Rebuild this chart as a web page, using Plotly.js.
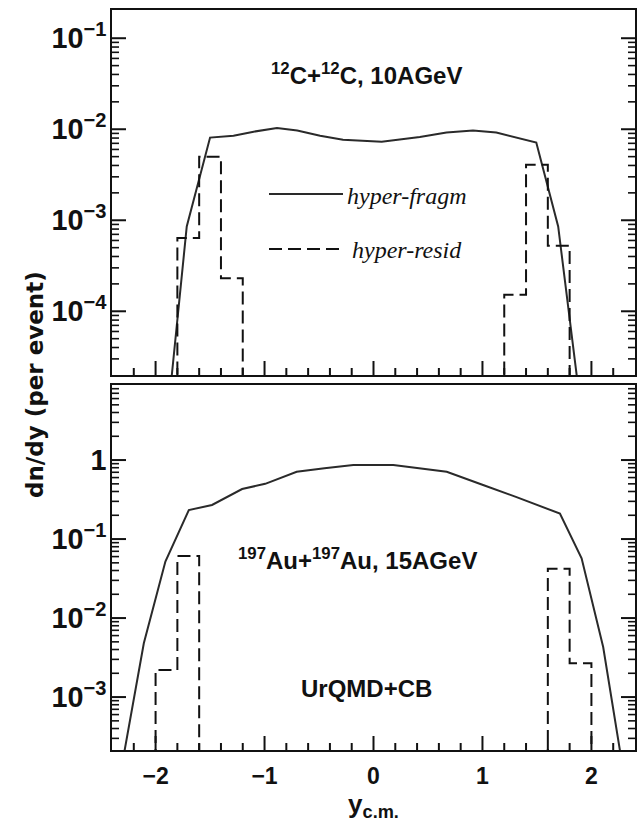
<!DOCTYPE html>
<html><head><meta charset="utf-8">
<script src="https://cdn.plot.ly/plotly-3.0.1.min.js"></script>
<style>html,body{margin:0;padding:0;background:#fff}#chart{width:641px;height:826px}</style>
</head><body><div id="chart"></div>
<script>
// ---- Top panel: 12C+12C, 10 AGeV ----
const fragX_C = [-1.9, -1.714, -1.5, -1.285, -1.1, -0.886, -0.7, -0.49, -0.28, 0.075, 0.425, 0.67, 0.913, 1.127, 1.494, 1.695, 1.9];
const fragY_C = [5.2e-6, 8.55e-4, 8.1e-3, 8.5e-3, 9.4e-3, 1.03e-2, 9.7e-3, 8.5e-3, 7.65e-3, 7.3e-3, 8.2e-3, 9.2e-3, 9.7e-3, 9.2e-3, 7.15e-3, 8.55e-4, 9.1e-6];
const residEdgesL_C = [-1.8, -1.6, -1.4, -1.2];
const residValsL_C = [6.4e-4, 5.0e-3, 2.3e-4];
const residEdgesR_C = [1.2, 1.4, 1.6, 1.8];
const residValsR_C = [1.52e-4, 4.06e-3, 5.25e-4];

// ---- Bottom panel: 197Au+197Au, 15 AGeV ----
const fragX_Au = [-2.3, -2.108, -1.91, -1.695, -1.482, -1.206, -0.994, -0.705, -0.45, -0.185, 0.182, 0.45, 0.672, 1.012, 1.313, 1.711, 1.91, 2.108, 2.3];
const fragY_Au = [1.6e-4, 4.8e-3, 5.2e-2, 0.233, 0.27, 0.43, 0.50, 0.71, 0.785, 0.865, 0.865, 0.776, 0.71, 0.48, 0.34, 0.21, 0.057, 4.3e-3, 1.0e-4];
const residEdgesL_Au = [-2.0, -1.8, -1.6];
const residValsL_Au = [2.2e-3, 0.061];
const residEdgesR_Au = [1.6, 1.8, 2.0];
const residValsR_Au = [0.042, 2.67e-3];

// axis ranges (log10 for y)
const xRange = [-2.4, 2.4];
const yRangeTop = [-4.7, -0.69];
const yRangeBot = [-3.67, 0.95];

const FLOOR = 1e-12;
function steps(edgesList, valsList) {
  const xs = [], ys = [];
  edgesList.forEach((edges, k) => {
    const vals = valsList[k];
    if (k > 0) { xs.push(null); ys.push(null); }
    xs.push(edges[0]); ys.push(FLOOR);
    for (let i = 0; i < vals.length; i++) { xs.push(edges[i]); ys.push(vals[i]); }
    xs.push(edges[edges.length - 1]); ys.push(FLOOR);
  });
  return {xs, ys};
}
const stC = steps([residEdgesL_C, residEdgesR_C], [residValsL_C, residValsR_C]);
const stAu = steps([residEdgesL_Au, residEdgesR_Au], [residValsL_Au, residValsR_Au]);

const DASH = '13px,6px';
const INK = '#111';
const traces = [
  {x: fragX_C, y: fragY_C, xaxis: 'x', yaxis: 'y', mode: 'lines', line: {color: '#2a2a2a', width: 2}, showlegend: false},
  {x: stC.xs, y: stC.ys, xaxis: 'x', yaxis: 'y', mode: 'lines', line: {color: INK, width: 2, dash: DASH, shape: 'hv'}, connectgaps: false, showlegend: false},
  {x: fragX_Au, y: fragY_Au, xaxis: 'x2', yaxis: 'y2', mode: 'lines', line: {color: '#2a2a2a', width: 2}, showlegend: false},
  {x: stAu.xs, y: stAu.ys, xaxis: 'x2', yaxis: 'y2', mode: 'lines', line: {color: INK, width: 2, dash: DASH, shape: 'hv'}, connectgaps: false, showlegend: false}
];

// ---- tick marks drawn as shapes on all four sides of both frames ----
const MAJ = 14, MIN = 7;
const tickShapes = [];
function xTicks(xr, yr, yRangeLog) {
  const lo = Math.pow(10, yRangeLog[0]), hi = Math.pow(10, yRangeLog[1]);
  for (let i = Math.ceil(xRange[0] / 0.2 + 1e-9); i <= Math.floor(xRange[1] / 0.2 - 1e-9); i++) {
    const v = Math.round(i * 2) / 10;
    const major = Math.abs(v - Math.round(v)) < 1e-9;
    const len = major ? MAJ : MIN, w = 2;
    [[lo, len], [hi, -len]].forEach(([anc, l]) => tickShapes.push({
      type: 'line', xref: xr, yref: yr, x0: v, x1: v, ysizemode: 'pixel', yanchor: anc, y0: 0, y1: l,
      line: {color: INK, width: w}, layer: 'above'}));
  }
}
function yTicks(xr, yr, yRangeLog) {
  for (let d = Math.floor(yRangeLog[0]); d <= Math.ceil(yRangeLog[1]); d++) {
    for (let m = 1; m <= 9; m++) {
      const lv = d + Math.log10(m);
      if (lv <= yRangeLog[0] + 0.01 || lv >= yRangeLog[1] - 0.01) continue;
      const v = m * Math.pow(10, d);
      const major = m === 1;
      const len = major ? MAJ : MIN, w = major ? 2 : 1.6;
      [[xRange[0], len], [xRange[1], -len]].forEach(([anc, l]) => tickShapes.push({
        type: 'line', xref: xr, yref: yr, y0: v, y1: v, xsizemode: 'pixel', xanchor: anc, x0: 0, x1: l,
        line: {color: INK, width: w}, layer: 'above'}));
    }
  }
}
xTicks('x', 'y', yRangeTop);
xTicks('x2', 'y2', yRangeBot);
yTicks('x', 'y', yRangeTop);
yTicks('x2', 'y2', yRangeBot);

const tickFont = {family: 'Liberation Sans, Arial, sans-serif', size: 23, color: INK, weight: 'bold'};
const frame = {showline: true, linewidth: 2, linecolor: INK, mirror: true, ticks: '', showgrid: false, zeroline: false, tickfont: tickFont};

const L = 112, R = 6, T = 10, B = 76, W = 641, H = 826;
const PW = W - L - R, PH = H - T - B;
const px = v => (v - L) / PW;
const py = v => (H - B - v) / PH;

const annFont = {family: 'Liberation Sans, Arial, sans-serif', size: 24, color: INK, weight: 'bold'};
const legFont = {family: 'Liberation Serif, Times New Roman, serif', size: 24, color: INK};

const layout = {
  width: W, height: H,
  margin: {l: L, r: R, t: T, b: B},
  paper_bgcolor: '#fff', plot_bgcolor: '#fff',
  showlegend: false,
  xaxis: Object.assign({}, frame, {range: xRange, dtick: 1, tick0: 0, showticklabels: false, anchor: 'y', domain: [0, 1]}),
  yaxis: Object.assign({}, frame, {type: 'log', range: yRangeTop, dtick: 1, exponentformat: 'power', ticklabelstandoff: -1, anchor: 'x', domain: [py(375), 1]}),
  xaxis2: Object.assign({}, frame, {range: xRange, dtick: 1, tick0: 0, anchor: 'y2', domain: [0, 1], ticklabelstandoff: 4,
    title: {text: 'y<sub>c.m.</sub>', font: {family: 'Liberation Sans, Arial, sans-serif', size: 26, color: INK, weight: 'bold'}, standoff: 6}}),
  yaxis2: Object.assign({}, frame, {type: 'log', range: yRangeBot, dtick: 1, exponentformat: 'power', ticklabelstandoff: -1, anchor: 'x2', domain: [0, py(385)]}),
  shapes: tickShapes.concat([
    {type: 'line', xref: 'paper', yref: 'paper', x0: px(269), x1: px(343), y0: py(194), y1: py(194), line: {color: '#2a2a2a', width: 2}},
    {type: 'line', xref: 'paper', yref: 'paper', x0: px(269), x1: px(340), y0: py(249), y1: py(249), line: {color: INK, width: 2, dash: DASH}}
  ]),
  annotations: [
    {xref: 'paper', yref: 'paper', x: px(366), y: py(74), xanchor: 'center', yanchor: 'middle', showarrow: false,
     text: '<sup>12</sup>C+<sup>12</sup>C, 10AGeV', font: annFont},
    {xref: 'paper', yref: 'paper', x: px(345), y: py(196), xanchor: 'left', yanchor: 'middle', showarrow: false,
     text: '<i>hyper-fragm</i>', font: legFont},
    {xref: 'paper', yref: 'paper', x: px(350), y: py(250), xanchor: 'left', yanchor: 'middle', showarrow: false,
     text: '<i>hyper-resid</i>', font: legFont},
    {xref: 'paper', yref: 'paper', x: px(357.5), y: py(559), xanchor: 'center', yanchor: 'middle', showarrow: false,
     text: '<sup>197</sup>Au+<sup>197</sup>Au, 15AGeV', font: annFont},
    {xref: 'paper', yref: 'paper', x: px(366.5), y: py(688), xanchor: 'center', yanchor: 'middle', showarrow: false,
     text: 'UrQMD+CB', font: annFont},
    {xref: 'paper', yref: 'paper', x: px(35), y: py(385), xanchor: 'center', yanchor: 'middle', showarrow: false, textangle: -90,
     text: 'dn/dy (per event)', font: {family: 'DejaVu Sans, sans-serif', size: 23, color: INK, weight: 'bold'}}
  ]
};

Plotly.newPlot('chart', traces, layout, {displayModeBar: false});
</script>
</body></html>
